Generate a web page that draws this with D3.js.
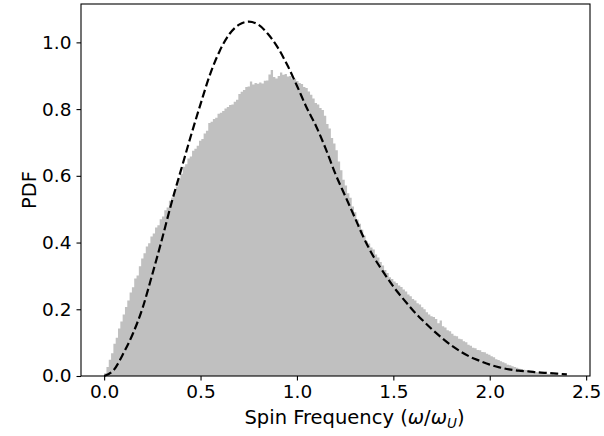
<!DOCTYPE html>
<html>
<head>
<meta charset="utf-8">
<script src="https://cdn.jsdelivr.net/npm/d3@7"></script>
<style>
  body { margin: 0; background: #fff; }
  svg { display: block; }
  .tick text { font-family: "DejaVu Sans", sans-serif; font-size: 18.5px; fill: #000; }
  .axis-label { font-family: "DejaVu Sans", sans-serif; font-size: 19.5px; fill: #000; }
</style>
</head>
<body>
<svg id="chart" width="604" height="436"></svg>
<script>
// histogram range and bin heights (200 bins)
var histRange = [0, 2.4];
var histValues = [
    0.008, 0.027, 0.049, 0.068, 0.097, 0.115, 0.142, 0.163, 0.184, 0.207,
    0.226, 0.250, 0.266, 0.292, 0.301, 0.329, 0.352, 0.368, 0.388, 0.398,
    0.418, 0.427, 0.445, 0.452, 0.470, 0.478, 0.497, 0.505, 0.525, 0.535,
    0.553, 0.568, 0.592, 0.606, 0.627, 0.635, 0.652, 0.658, 0.675, 0.681,
    0.690, 0.705, 0.710, 0.727, 0.735, 0.758, 0.762, 0.770, 0.774, 0.786,
    0.789, 0.794, 0.802, 0.806, 0.812, 0.814, 0.822, 0.828, 0.845, 0.852,
    0.857, 0.866, 0.868, 0.883, 0.874, 0.878, 0.876, 0.880, 0.877, 0.885,
    0.886, 0.904, 0.917, 0.896, 0.892, 0.899, 0.910, 0.903, 0.905, 0.898,
    0.899, 0.890, 0.891, 0.884, 0.878, 0.875, 0.866, 0.863, 0.853, 0.843,
    0.832, 0.818, 0.814, 0.803, 0.797, 0.780, 0.755, 0.742, 0.713, 0.697,
    0.677, 0.643, 0.617, 0.588, 0.571, 0.548, 0.534, 0.508, 0.491, 0.469,
    0.456, 0.438, 0.421, 0.404, 0.397, 0.385, 0.379, 0.364, 0.355, 0.342,
    0.331, 0.318, 0.309, 0.296, 0.291, 0.283, 0.279, 0.271, 0.267, 0.259,
    0.253, 0.244, 0.239, 0.231, 0.226, 0.218, 0.214, 0.206, 0.200, 0.191,
    0.184, 0.179, 0.177, 0.171, 0.158, 0.166, 0.149, 0.145, 0.137, 0.134,
    0.127, 0.121, 0.119, 0.112, 0.110, 0.104, 0.101, 0.094, 0.091, 0.085,
    0.083, 0.078, 0.077, 0.072, 0.071, 0.067, 0.064, 0.059, 0.056, 0.050,
    0.048, 0.044, 0.041, 0.038, 0.034, 0.032, 0.029, 0.027, 0.025, 0.022,
    0.021, 0.019, 0.018, 0.016, 0.015, 0.013, 0.012, 0.011, 0.010, 0.009,
    0.008, 0.007, 0.006, 0.005, 0.004, 0.004, 0.003, 0.002, 0.002, 0.001
];

// dashed model curve
var curveX = [0.00, 0.05, 0.10, 0.15, 0.20, 0.25, 0.30, 0.35, 0.40, 0.45,
              0.50, 0.55, 0.60, 0.65, 0.70, 0.75, 0.80, 0.85, 0.90, 0.95,
              1.00, 1.05, 1.10, 1.15, 1.20, 1.25, 1.30, 1.35, 1.40, 1.45,
              1.50, 1.55, 1.60, 1.65, 1.70, 1.75, 1.80, 1.85, 1.90, 1.95,
              2.00, 2.05, 2.10, 2.15, 2.20, 2.25, 2.30, 2.35, 2.40];
var curveY = [0.000, 0.018, 0.068, 0.128, 0.205, 0.305, 0.410, 0.520, 0.620, 0.720,
              0.815, 0.905, 0.975, 1.025, 1.053, 1.062, 1.053, 1.025, 0.985, 0.932,
              0.870, 0.805, 0.748, 0.680, 0.605, 0.540, 0.475, 0.410, 0.355, 0.310,
              0.268, 0.232, 0.198, 0.168, 0.140, 0.115, 0.092, 0.073, 0.057, 0.045,
              0.034, 0.026, 0.020, 0.016, 0.014, 0.011, 0.009, 0.007, 0.005];

var xTicks = [0.0, 0.5, 1.0, 1.5, 2.0, 2.5];
var yTicks = [0.0, 0.2, 0.4, 0.6, 0.8, 1.0];

var margin = { top: 4, right: 14, bottom: 60, left: 81 },
    width = 604 - margin.left - margin.right,
    height = 436 - margin.top - margin.bottom;

var svg = d3.select("#chart")
    .append("g")
    .attr("transform", "translate(" + margin.left + "," + margin.top + ")");

var xScale = d3.scaleLinear().domain([-0.12, 2.52]).range([0, width]);
var yScale = d3.scaleLinear().domain([0, 1.115]).range([height, 0]);

// histogram as a stepped area
var binW = (histRange[1] - histRange[0]) / histValues.length;
var steps = histValues.map(function (v, i) { return { x: histRange[0] + i * binW, y: v }; });
steps.push({ x: histRange[1], y: histValues[histValues.length - 1] });

var area = d3.area()
    .curve(d3.curveStepAfter)
    .x(function (d) { return xScale(d.x); })
    .y0(yScale(0))
    .y1(function (d) { return yScale(d.y); });

svg.append("path")
    .datum(steps)
    .attr("d", area)
    .style("fill", "#c0c0c0")
    .style("stroke", "none");

// model curve
var curveData = curveX.map(function (x, i) { return { x: x, y: curveY[i] }; });
var line = d3.line()
    .curve(d3.curveMonotoneX)
    .x(function (d) { return xScale(d.x); })
    .y(function (d) { return yScale(d.y); });

svg.append("path")
    .datum(curveData)
    .attr("d", line)
    .style("fill", "none")
    .style("stroke", "#000")
    .style("stroke-width", 2.2)
    .style("stroke-dasharray", "8,3.5");

// axes
var xAxis = d3.axisBottom(xScale).tickValues(xTicks).tickFormat(d3.format(".1f")).tickSize(4.5).tickPadding(4.5);
var yAxis = d3.axisLeft(yScale).tickValues(yTicks).tickFormat(d3.format(".1f")).tickSize(4.5).tickPadding(5);

var gx = svg.append("g")
    .attr("class", "x axis")
    .attr("transform", "translate(0," + height + ")")
    .call(xAxis);
var gy = svg.append("g")
    .attr("class", "y axis")
    .call(yAxis);

[gx, gy].forEach(function (g) {
    g.select(".domain").remove();
    g.selectAll(".tick line").style("stroke", "#000").style("stroke-width", 1.1);
});

// frame
svg.append("rect")
    .attr("x", 0).attr("y", 0)
    .attr("width", width).attr("height", height)
    .style("fill", "none")
    .style("stroke", "#000")
    .style("stroke-width", 1.1);

// labels
svg.append("text")
    .attr("class", "axis-label")
    .attr("transform", "translate(-45," + (height / 2) + ") rotate(-90)")
    .attr("text-anchor", "middle")
    .text("PDF");

var xl = svg.append("text")
    .attr("class", "axis-label")
    .attr("x", width / 2 + 19)
    .attr("y", height + 48)
    .attr("text-anchor", "middle");
xl.append("tspan").text("Spin Frequency (");
xl.append("tspan").style("font-style", "italic").text("ω");
xl.append("tspan").text("/");
xl.append("tspan").style("font-style", "italic").text("ω");
xl.append("tspan").style("font-style", "italic").style("font-size", "13.5px").attr("dy", 4).text("U");
xl.append("tspan").attr("dy", -4).text(")");
</script>
</body>
</html>
